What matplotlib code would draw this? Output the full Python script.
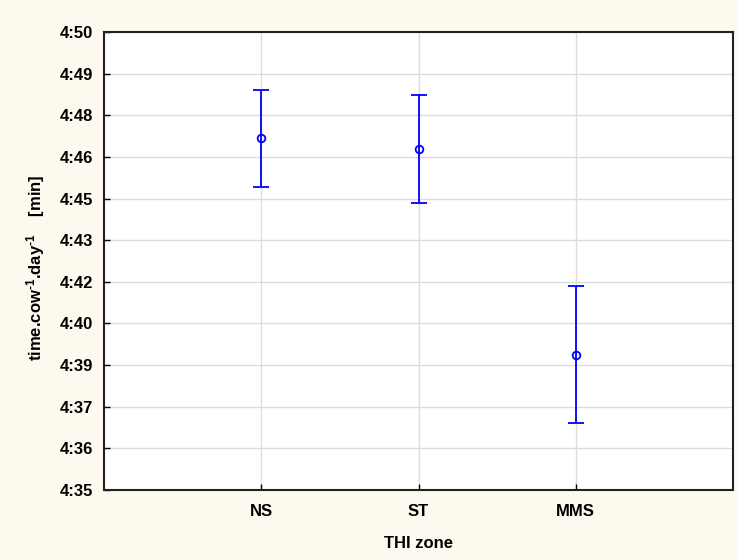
import numpy as np
import matplotlib.pyplot as plt

# datos (minutos totales, 4:35 = 275)
zonas = ['NS', 'ST', 'MMS']
media = [286.53, 286.17, 279.42]
sup = [288.10, 287.92, 281.68]
inf = [284.92, 284.40, 277.20]
etiquetasY = ['4:35', '4:36', '4:37', '4:39', '4:40', '4:42',
              '4:43', '4:45', '4:46', '4:48', '4:49', '4:50']

plt.rcParams['font.family'] = 'Liberation Sans'
plt.rcParams['font.weight'] = 'bold'
plt.rcParams['mathtext.fontset'] = 'custom'
plt.rcParams['mathtext.rm'] = 'Liberation Sans:bold'
plt.rcParams['mathtext.it'] = 'Liberation Sans:bold'
plt.rcParams['mathtext.bf'] = 'Liberation Sans:bold'

fondo = '#fdf9ee'
fig = plt.figure(figsize=(7.37, 5.6), dpi=100, facecolor=fondo)
ax = fig.add_axes([0.1411, 0.125, 0.8535, 0.8179])

x = np.arange(1, len(zonas) + 1)
media = np.array(media)
err = [media - np.array(inf), np.array(sup) - media]
ax.errorbar(x, media, yerr=err, fmt='o', color='#0000ff', mfc='none',
            ms=5.5, mew=1.3, elinewidth=1.3, capsize=6, capthick=1.3, zorder=3)

ax.set_xlim(0, 4)
ax.set_ylim(275, 290)
ax.set_xticks(x)
ax.set_xticklabels(zonas)
ax.set_yticks(np.linspace(275, 290, 12))
ax.set_yticklabels(etiquetasY)
ax.tick_params(direction='in', length=4, labelsize=12, width=1, pad=8)
ax.tick_params(axis='x', pad=10)
ax.grid(True, color='#dcdcdc', linewidth=1)
ax.set_axisbelow(True)
for s in ax.spines.values():
    s.set_linewidth(1.5)
    s.set_color('#222222')

ax.set_xlabel('THI zone', fontsize=12, fontweight='bold', labelpad=12)
ax.set_ylabel(r'time.cow$^{\text{-}1}$.day$^{\text{-}1}$    [min]', fontsize=12,
              fontweight='bold')
ax.yaxis.set_label_coords(-0.090, 0.486)

fig.savefig('out.png', dpi=100, facecolor=fondo)
